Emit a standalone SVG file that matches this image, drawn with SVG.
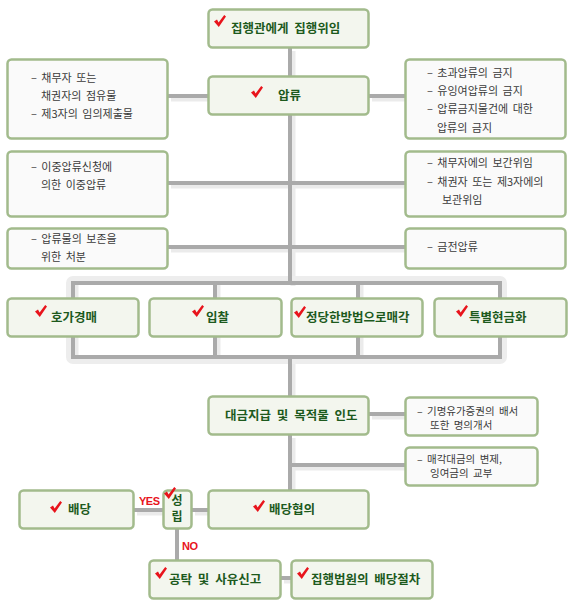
<svg xmlns="http://www.w3.org/2000/svg" xmlns:xlink="http://www.w3.org/1999/xlink" width="574" height="609" viewBox="0 0 574 609">
<style>
.main rect{fill:#f3f6ee;stroke:#a2bb8c;stroke-width:2.5}
.side rect{fill:#fafafa;stroke:#a2bb8c;stroke-width:2.5}
.lbl{font-family:"Noto Sans CJK KR","Noto Sans",sans-serif;font-size:12.5px;font-weight:700;fill:#1d5a1d;word-spacing:3px}
.st{font-family:"Noto Sans CJK KR","Noto Sans",sans-serif;font-size:11px;fill:#3a3a3a;word-spacing:2px}
.st2{font-family:"Noto Sans CJK KR","Noto Sans",sans-serif;font-size:10.5px;fill:#3a3a3a;word-spacing:2px}
.yn{font-family:"Liberation Sans",Arial,sans-serif;font-size:11px;font-weight:700;fill:#e8141c;letter-spacing:-0.5px}
.dk{fill:none;stroke:#aaaaaa;stroke-width:4}
.lt{fill:none;stroke:#ebebeb;stroke-width:5}
</style>
<defs>
<path id="chk" d="M0,6.5 L3,4.5 L4.6,7.6 L10.2,0 L12,1.4 L4.8,12 Z" fill="#e8141c"/>
</defs>
<rect width="574" height="609" fill="#ffffff"/>
<g id="connectors">
<g transform="translate(3,3)">
<path class="lt" d="M290,48 V283 M168,96 H208 M369,96 H406 M168,183 H406 M168,247 H406 M290,357 V396 M290,435 V490 M369,414 H406 M290,465 H406 M134,510 H163 M192,510 H209 M281,578 H292"/>
</g>
<rect x="69" y="279" width="435" height="82" rx="4" fill="none" stroke="#ededed" stroke-width="6"/>
<path class="lt" d="M76,283 V357 M218,283 V357 M361,283 V357"/>
<path class="dk" d="M290,48 V283 M168,96 H208 M369,96 H406 M168,183 H406 M168,247 H406"/>
<path class="dk" d="M73,283 H500 V357 H73 Z M215,283 V357 M358,283 V357"/>
<path class="dk" d="M290,357 V396 M290,435 V490 M369,414 H406 M290,465 H406 M134,510 H163 M192,510 H209 M177,529 V560 M281,578 H292"/>
<text class="yn" x="139" y="505">YES</text>
<text class="yn" x="182" y="550">NO</text>
</g>
<g id="n1" class="main"><rect x="208.5" y="9.5" width="160" height="38" rx="4"/><use xlink:href="#chk" x="214" y="15"/><text class="lbl" x="231" y="33">집행관에게 집행위임</text></g>
<g id="n2" class="main"><rect x="208.5" y="76.5" width="160" height="38" rx="4"/><use xlink:href="#chk" x="251" y="86"/><text class="lbl" x="278" y="100">압류</text></g>
<g id="s1" class="side"><rect x="7.5" y="59.5" width="160" height="79" rx="4"/><text class="st" x="31" y="82">– 채무자 또는</text><text class="st" x="41" y="100">채권자의 점유물</text><text class="st" x="31" y="118">– 제3자의 임의제출물</text></g>
<g id="s2" class="side"><rect x="7.5" y="151.5" width="160" height="65" rx="4"/><text class="st" x="31" y="171">– 이중압류신청에</text><text class="st" x="41" y="189">의한 이중압류</text></g>
<g id="s3" class="side"><rect x="7.5" y="228.5" width="160" height="40" rx="4"/><text class="st" x="31" y="243">– 압류물의 보존을</text><text class="st" x="41" y="261">위한 처분</text></g>
<g id="s4" class="side"><rect x="405.5" y="59.5" width="160" height="79" rx="4"/><text class="st" x="427" y="77">– 초과압류의 금지</text><text class="st" x="427" y="95">– 유잉여압류의 금지</text><text class="st" x="427" y="113">– 압류금지물건에 대한</text><text class="st" x="437" y="132">압류의 금지</text></g>
<g id="s5" class="side"><rect x="405.5" y="151.5" width="160" height="65" rx="4"/><text class="st" x="427" y="167">– 채무자에의 보간위임</text><text class="st" x="427" y="186">– 채권자 또는 제3자에의</text><text class="st" x="442" y="204">보관위임</text></g>
<g id="s6" class="side"><rect x="405.5" y="228.5" width="160" height="40" rx="4"/><text class="st" x="427" y="251">– 금전압류</text></g>
<g id="m1" class="main"><rect x="7.5" y="298.5" width="131" height="38" rx="4"/><use xlink:href="#chk" x="35" y="305"/><text class="lbl" x="51" y="322">호가경매</text></g>
<g id="m2" class="main"><rect x="149.5" y="298.5" width="132" height="38" rx="4"/><use xlink:href="#chk" x="192" y="305"/><text class="lbl" x="206" y="322">입찰</text></g>
<g id="m3" class="main"><rect x="291.5" y="298.5" width="131" height="38" rx="4"/><use xlink:href="#chk" x="294" y="306"/><text class="lbl" x="306" y="322">정당한방법으로매각</text></g>
<g id="m4" class="main"><rect x="434.5" y="298.5" width="132" height="38" rx="4"/><use xlink:href="#chk" x="456" y="305"/><text class="lbl" x="469" y="322">특별현금화</text></g>
<g id="n3" class="main"><rect x="208.5" y="396.5" width="160" height="38" rx="4"/><text class="lbl" x="225" y="420">대금지급 및 목적물 인도</text></g>
<g id="s7" class="side"><rect x="405.5" y="397.5" width="132" height="38" rx="4"/><text class="st2" x="417" y="415">– 기명유가증권의 배서</text><text class="st2" x="430" y="429">또한 명의개서</text></g>
<g id="s8" class="side"><rect x="405.5" y="447.5" width="132" height="38" rx="4"/><text class="st2" x="417" y="463">– 매각대금의 변제,</text><text class="st2" x="430" y="477">잉여금의 교부</text></g>
<g id="n4" class="main"><rect x="19.5" y="490.5" width="114" height="38" rx="4"/><use xlink:href="#chk" x="50" y="501"/><text class="lbl" x="68" y="514">배당</text></g>
<g id="n5" class="main"><rect x="163.5" y="490.5" width="28" height="38" rx="4"/><text class="lbl" x="177" y="505" text-anchor="middle" style="font-size:12px">성</text><text class="lbl" x="177" y="521" text-anchor="middle" style="font-size:12px">립</text><use xlink:href="#chk" x="164" y="487"/></g>
<g id="n6" class="main"><rect x="208.5" y="490.5" width="160" height="38" rx="4"/><use xlink:href="#chk" x="253" y="500"/><text class="lbl" x="269" y="514">배당협의</text></g>
<g id="n7" class="main"><rect x="149.5" y="560.5" width="131" height="38" rx="4"/><use xlink:href="#chk" x="155" y="567"/><text class="lbl" x="169" y="584">공탁 및 사유신고</text></g>
<g id="n8" class="main"><rect x="291.5" y="560.5" width="141" height="38" rx="4"/><use xlink:href="#chk" x="297" y="567"/><text class="lbl" x="311" y="584">집행법원의 배당절차</text></g>
</svg>
